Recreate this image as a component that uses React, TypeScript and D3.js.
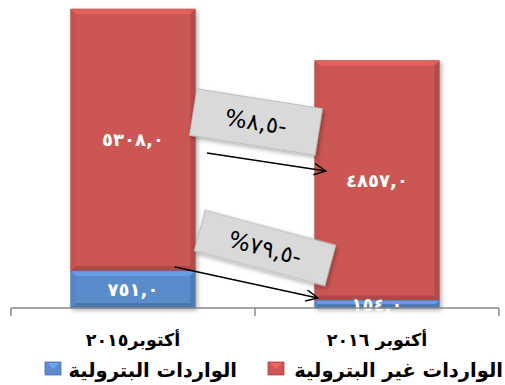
import React from "react";
import * as d3 from "d3";

const categories = ["أكتوبر٢٠١٥", "أكتوبر ٢٠١٦"];
const petroleum = [751.0, 154.0];
const nonPetroleum = [5308.0, 4857.0];
const petroleumLabels = ["٧٥١,٠", "١٥٤,٠"];
const nonPetroleumLabels = ["٥٣٠٨,٠", "٤٨٥٧,٠"];
const seriesNames = ["الواردات البترولية", "الواردات غير البترولية"];
const changeLabels = ["%٨,٥-", "%٧٩,٥-"];

const W = 505;
const H = 385;
const FONT = "'DejaVu Sans', Arial, sans-serif";

const RED = "#CB5653";
const BLUE = "#5A8BCB";

function shade(c: string, k: number) {
  const col = d3.rgb(c);
  return k > 0 ? col.brighter(k).formatHex() : col.darker(-k).formatHex();
}

function BevelRect({ x, y, w, h, fill }: { x: number; y: number; w: number; h: number; fill: string }) {
  const b = Math.min(5, h / 2, w / 2);
  return (
    <g>
      <rect x={x} y={y} width={w} height={h} fill={fill} />
      <polygon points={`${x},${y} ${x + w},${y} ${x + w - b},${y + b} ${x + b},${y + b}`} fill={shade(fill, 0.35)} />
      <polygon points={`${x},${y} ${x + b},${y + b} ${x + b},${y + h - b} ${x},${y + h}`} fill={shade(fill, -0.1)} />
      <polygon points={`${x + w},${y} ${x + w},${y + h} ${x + w - b},${y + h - b} ${x + w - b},${y + b}`} fill={shade(fill, -0.35)} />
      <polygon points={`${x},${y + h} ${x + b},${y + h - b} ${x + w - b},${y + h - b} ${x + w},${y + h}`} fill={shade(fill, -0.45)} />
      <rect x={x} y={y} width={w} height={h} fill="none" stroke={shade(fill, -0.3)} strokeWidth={0.6} />
    </g>
  );
}

export default function App() {
  const x = d3.scaleBand<string>().domain(categories).range([11, 499]);
  const y = d3.scaleLinear().domain([0, 6059]).range([308, 9]);
  const barW = x.bandwidth() * 0.51;

  const bars = categories.map((c, i) => {
    const cx = (x(c) as number) + x.bandwidth() / 2;
    const x0 = cx - barW / 2;
    const yBlueTop = y(petroleum[i]);
    const yRedTop = y(petroleum[i] + nonPetroleum[i]);
    return { c, i, cx, x0, yBlueTop, yRedTop };
  });

  const boxes = [
    { cx: 256, cy: 122, w: 127, h: 47, rot: 9 },
    { cx: 265, cy: 248, w: 135, h: 42, rot: 15 },
  ];
  const arrows = [
    { x1: 207, y1: 153, x2: bars[1].x0 + 11, y2: 171 },
    { x1: 175, y1: 267, x2: bars[1].x0 + 3, y2: 298 },
  ];

  const arrowHead = (a: { x1: number; y1: number; x2: number; y2: number }) => {
    const ang = Math.atan2(a.y2 - a.y1, a.x2 - a.x1);
    const L = 13;
    const sp = 0.45;
    const p1 = [a.x2 - L * Math.cos(ang - sp), a.y2 - L * Math.sin(ang - sp)];
    const p2 = [a.x2 - L * Math.cos(ang + sp), a.y2 - L * Math.sin(ang + sp)];
    return `M${p1[0]},${p1[1]} L${a.x2},${a.y2} L${p2[0]},${p2[1]}`;
  };

  const ticks = [x.range()[0], ...categories.map((c) => (x(c) as number) + x.bandwidth())];

  return (
    <svg width={W} height={H} style={{ position: "absolute", left: 0, top: 0, background: "#fff" }} fontFamily={FONT}>
      <defs>
        <filter id="sh" x="-10%" y="-10%" width="130%" height="130%">
          <feDropShadow dx="2" dy="2" stdDeviation="2" floodColor="#000" floodOpacity="0.3" />
        </filter>
      </defs>

      {bars.map((b) => (
        <g key={b.c} filter="url(#sh)">
          <BevelRect x={b.x0} y={b.yRedTop} w={barW} h={b.yBlueTop - b.yRedTop} fill={RED} />
          <BevelRect x={b.x0} y={b.yBlueTop} w={barW} h={y(0) - b.yBlueTop} fill={BLUE} />
        </g>
      ))}

      {bars.map((b) => (
        <g key={"l" + b.c} fill="#fff" fontWeight="bold" fontSize={18} letterSpacing={2.5} textAnchor="middle" style={{ unicodeBidi: "bidi-override", direction: "ltr" }}>
          <text x={b.cx} y={(b.yRedTop + b.yBlueTop) / 2} dy="0.35em">{nonPetroleumLabels[b.i]}</text>
          <text x={b.cx} y={b.i === 0 ? (b.yBlueTop + y(0)) / 2 : y(0) - 3} dy="0.35em">{petroleumLabels[b.i]}</text>
        </g>
      ))}

      {/* axis */}
      <line x1={x.range()[0]} x2={x.range()[1]} y1={y(0)} y2={y(0)} stroke="#888" strokeWidth={1.5} />
      {ticks.map((t, i) => (
        <line key={i} x1={t} x2={t} y1={y(0)} y2={y(0) + 8} stroke="#888" strokeWidth={1.5} />
      ))}
      {bars.map((b) => (
        <text key={"c" + b.c} x={b.cx} y={346} textAnchor="middle" fontWeight="bold" fontSize={17.5} direction="rtl">
          {categories[b.i]}
        </text>
      ))}

      {/* change boxes */}
      {boxes.map((bx, i) => (
        <g key={"b" + i} transform={`translate(${bx.cx},${bx.cy}) rotate(${bx.rot})`}>
          <rect x={-bx.w / 2} y={-bx.h / 2} width={bx.w} height={bx.h} fill="#D9D9D9" stroke="#BDBDBD" strokeWidth={1} filter="url(#sh)" />
          <text x={0} y={0} dy="0.35em" textAnchor="middle" fontSize={23} fill="#000" style={{ unicodeBidi: "bidi-override", direction: "ltr" }}>
            {changeLabels[i]}
          </text>
        </g>
      ))}

      {arrows.map((a, i) => (
        <g key={"a" + i} stroke="#000" strokeWidth={1.5} fill="none">
          <line x1={a.x1} y1={a.y1} x2={a.x2} y2={a.y2} />
          <path d={arrowHead(a)} />
        </g>
      ))}

      {/* legend */}
      <g fontWeight="bold" fontSize={19.5} direction="rtl">
        <text x={503} y={377} textAnchor="start">{seriesNames[1]}</text>
        <text x={237} y={377} textAnchor="start">{seriesNames[0]}</text>
      </g>
      {[{ x: 268, c: RED }, { x: 45, c: BLUE }].map((m, i) => (
        <g key={"m" + i}>
          <rect x={m.x} y={362} width={16} height={13} fill={m.c} stroke={shade(m.c, -0.5)} strokeWidth={0.8} />
          <polygon points={`${m.x + 2},${363} ${m.x + 14},${363} ${m.x + 8},${369}`} fill={shade(m.c, 0.5)} />
        </g>
      ))}
    </svg>
  );
}
